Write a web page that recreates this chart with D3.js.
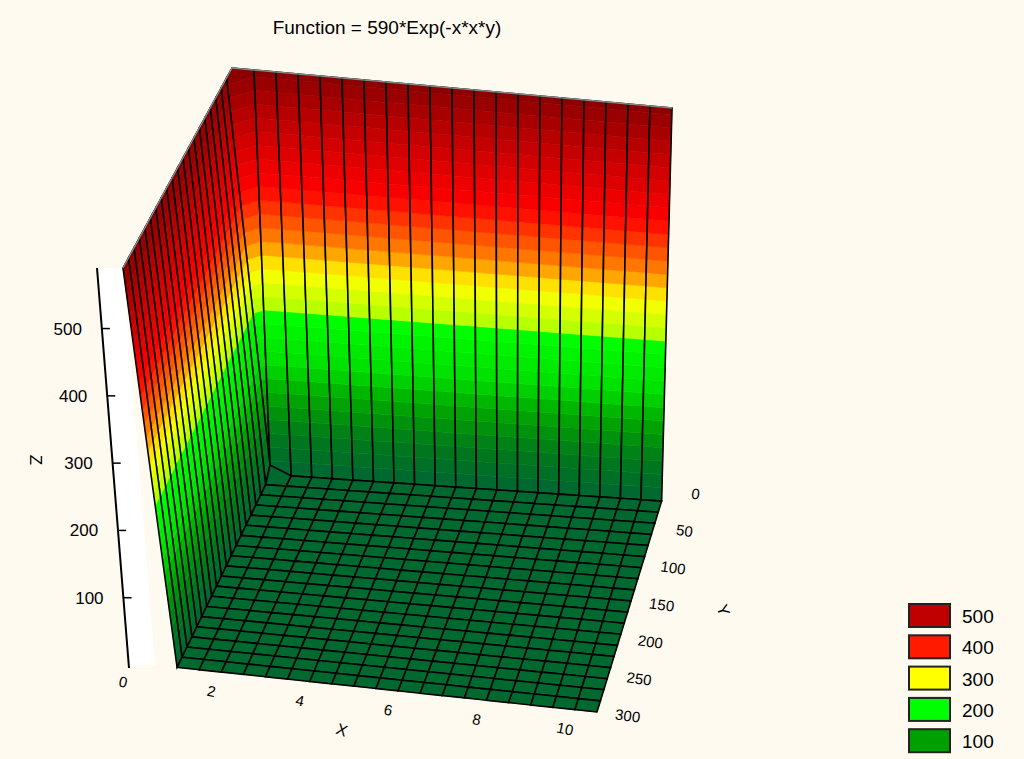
<!DOCTYPE html>
<html>
<head>
<meta charset="utf-8">
<script src="https://cdn.jsdelivr.net/npm/d3@7"></script>
<style>
  body { margin: 0; background: #fffaf0; }
  text { font-family: "Liberation Sans", Arial, sans-serif; }
</style>
</head>
<body>
<div id="chart"></div>
<script>
// grid: 20 x 20 cells
var xGrid = [0, 0.5, 1, 1.5, 2, 2.5, 3, 3.5, 4, 4.5, 5, 5.5, 6, 6.5, 7, 7.5, 8, 8.5, 9, 9.5, 10];
var yGrid = [0, 15, 30, 45, 60, 75, 90, 105, 120, 135, 150, 165, 180, 195, 210, 225, 240, 255, 270, 285, 300];
// z along the edge x = 0 and along the edge y = 0 (everything else is ~0)
var zAlongX0 = [590, 590, 590, 590, 590, 590, 590, 590, 590, 590, 590, 590, 590, 590, 590, 590, 590, 590, 590, 590, 590];
var zAlongY0 = [590, 590, 590, 590, 590, 590, 590, 590, 590, 590, 590, 590, 590, 590, 590, 590, 590, 590, 590, 590, 590];
var zNearCorner = 14;   // value at x = 0.5, y = 15
var zInterior = 0;

var xTicks = [0, 2, 4, 6, 8, 10];
var yTicks = [0, 50, 100, 150, 200, 250, 300];
var zTicks = [100, 200, 300, 400, 500];
var legendLevels = [500, 400, 300, 200, 100];
var legendColors = ["#c00000", "#ff1a00", "#ffff00", "#00ff00", "#00a000"];

var svgWidth = 1024, svgHeight = 759;
var svg = d3.select("#chart").append("svg")
  .attr("width", svgWidth).attr("height", svgHeight);
svg.append("rect").attr("width", svgWidth).attr("height", svgHeight).attr("fill", "#fffaf0");

// z value of grid node
function zAt(i, j) {
  if (i === 0) return zAlongX0[j];
  if (j === 0) return zAlongY0[i];
  if (i === 1 && j === 1) return zNearCorner;
  return zInterior;
}

// projection: trilinear between floor and top corners of the box
var uScale = d3.scaleLinear().domain([0, 10]).range([0, 1]);
var vScale = d3.scaleLinear().domain([0, 300]).range([0, 1]);
var wScale = d3.scaleLinear().domain([0, 590]).range([0, 1]);
var B = { c00: [255, 463], c10: [665, 490], c01: [155, 665], c11: [597, 712] };
var T = { c00: [232, 68], c10: [672, 108], c01: [123, 268], c11: [595, 322] };
function bil(C, u, v) {
  return [0, 1].map(k =>
    C.c00[k] * (1 - u) * (1 - v) + C.c10[k] * u * (1 - v) + C.c01[k] * (1 - u) * v + C.c11[k] * u * v);
}
function P(x, y, z) {
  var u = uScale(x), v = vScale(y), w = wScale(z);
  var b = bil(B, u, v), t = bil(T, u, v);
  return [b[0] + (t[0] - b[0]) * w, b[1] + (t[1] - b[1]) * w];
}

// colour by height
var colorScale = d3.scaleLinear()
  .domain([0, 60, 120, 160, 235, 240, 300, 340, 420, 500, 590])
  .range(["#006633", "#007a1a", "#00aa00", "#00dd00", "#00ff00", "#aaff00", "#ffff00", "#ff8800", "#ff0000", "#cc0000", "#8c0000"]);
var bandStep = 20;

// clip polygon (3d points) to z in [a, b)
function clip(poly, a, keepAbove) {
  var out = [];
  for (var k = 0; k < poly.length; k++) {
    var p = poly[k], q = poly[(k + 1) % poly.length];
    var pin = keepAbove ? p[2] >= a : p[2] <= a;
    var qin = keepAbove ? q[2] >= a : q[2] <= a;
    if (pin) out.push(p);
    if (pin !== qin) {
      var t = (a - p[2]) / (q[2] - p[2]);
      out.push([p[0] + t * (q[0] - p[0]), p[1] + t * (q[1] - p[1]), a]);
    }
  }
  return out;
}

var line = d3.line();
var surf = svg.append("g");

// white strip of the box side between z axis and the wall
var axOff = -26;
svg.insert("path", "g").attr("d", line([
  [P(0, 300, 590)[0] + axOff, P(0, 300, 590)[1]], P(0, 300, 590), P(0, 300, 0),
  [P(0, 300, 0)[0] + axOff, P(0, 300, 0)[1]]]) + "Z").attr("fill", "#ffffff");

var cells = [];
for (var i = 0; i < xGrid.length - 1; i++)
  for (var j = 0; j < yGrid.length - 1; j++) cells.push([i, j]);
cells.sort((a, b) => (a[0] + a[1]) - (b[0] + b[1]));

cells.forEach(function(c) {
  var i = c[0], j = c[1];
  var quad = [
    [xGrid[i], yGrid[j], zAt(i, j)],
    [xGrid[i + 1], yGrid[j], zAt(i + 1, j)],
    [xGrid[i + 1], yGrid[j + 1], zAt(i + 1, j + 1)],
    [xGrid[i], yGrid[j + 1], zAt(i, j + 1)]
  ];
  var g = surf.append("g");
  var zmax = d3.max(quad, d => d[2]);
  for (var a = 0; a <= zmax; a += bandStep) {
    var poly = clip(clip(quad, a, true), a + bandStep, false);
    if (poly.length < 3) continue;
    g.append("path")
      .attr("d", line(poly.map(p => P(p[0], p[1], p[2]))) + "Z")
      .attr("fill", colorScale(a + bandStep / 2))
      .attr("stroke", colorScale(a + bandStep / 2)).attr("stroke-width", 0.6);
  }
  g.append("path")
    .attr("d", line(quad.map(p => P(p[0], p[1], p[2]))) + "Z")
    .attr("fill", "none").attr("stroke", "#000").attr("stroke-width", 1.6);
});

// top edge highlight
svg.append("path")
  .attr("d", line([P(0, 300, 590), P(0, 0, 590), P(10, 0, 590)]))
  .attr("fill", "none").attr("stroke", "#888").attr("stroke-width", 1.5);

// z axis
var ax = svg.append("g");
var zb = P(0, 300, 0), zt = P(0, 300, 590);
ax.append("line").attr("x1", zb[0] + axOff).attr("y1", zb[1] + 3)
  .attr("x2", zt[0] + axOff).attr("y2", zt[1])
  .attr("stroke", "#000").attr("stroke-width", 2);
zTicks.forEach(function(z) {
  var p = P(0, 300, z);
  var x0 = p[0] + axOff;
  ax.append("line").attr("x1", x0).attr("x2", x0 + 8).attr("y1", p[1]).attr("y2", p[1])
    .attr("stroke", "#000").attr("stroke-width", 1.5);
  ax.append("text").attr("x", x0 - 20).attr("y", p[1] + 6)
    .attr("text-anchor", "end").attr("font-size", 17).text(z);
});
ax.append("text").attr("transform", "translate(30,460) rotate(90)")
  .attr("text-anchor", "middle").attr("font-size", 17).text("Z");

// x axis labels
xTicks.forEach(function(x) {
  var p = P(x, 300, 0);
  ax.append("text").attr("transform", `translate(${p[0] - 33},${p[1] + 22}) rotate(12)`)
    .attr("text-anchor", "middle").attr("font-size", 15).text(x);
});
ax.append("text").attr("transform", "translate(340,735) rotate(20)")
  .attr("text-anchor", "middle").attr("font-size", 16).text("X");

// y axis labels
yTicks.forEach(function(y) {
  var p = P(10, y, 0);
  ax.append("text").attr("transform", `translate(${p[0] + 30},${p[1] + 9}) rotate(8)`)
    .attr("text-anchor", "middle").attr("font-size", 15).text(y);
});
ax.append("text").attr("transform", "translate(718,612) rotate(70)")
  .attr("text-anchor", "middle").attr("font-size", 16).text("Y");

// title
svg.append("text").attr("x", 387).attr("y", 34).attr("text-anchor", "middle")
  .attr("font-size", 19).text("Function = 590*Exp(-x*x*y)");

// legend
var leg = svg.append("g").attr("transform", "translate(909,604)");
legendLevels.forEach(function(l, k) {
  leg.append("rect").attr("x", 0).attr("y", k * 31.3).attr("width", 41).attr("height", 23)
    .attr("fill", legendColors[k]).attr("stroke", "#222").attr("stroke-width", 2);
  leg.append("text").attr("x", 53).attr("y", k * 31.3 + 19).attr("font-size", 19).text(l);
});
</script>
</body>
</html>
